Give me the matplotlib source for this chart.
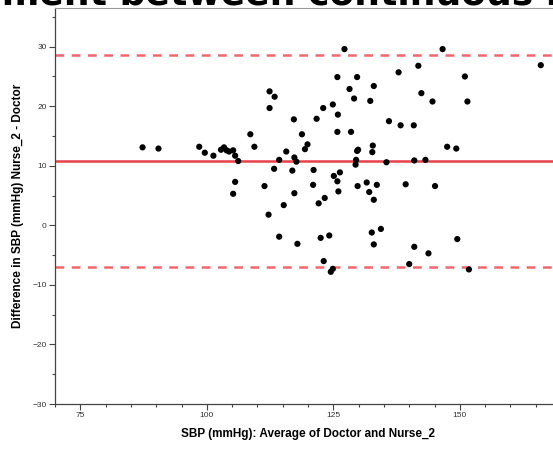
import numpy as np
import matplotlib
matplotlib.use("Agg")
import matplotlib.pyplot as plt
from matplotlib.ticker import MultipleLocator

# Bland-Altman data
avg_sbp = [87.3, 90.45, 98.5, 99.6, 101.3, 102.8, 103.4, 103.9, 104.4, 105.2,
           105.6, 106.2, 105.6, 105.2, 108.6, 109.4, 112.4, 113.4, 112.4, 113.3,
           114.3, 111.4, 112.2, 114.3,
           127.2, 125.8, 129.7, 128.2, 133.0, 129.1, 132.3, 137.9, 123.0, 124.9,
           125.9, 117.2, 121.7, 136.0, 138.3, 140.9, 118.8, 125.8, 128.5, 119.9,
           132.8,
           115.7, 117.3, 117.7, 119.4, 116.9, 121.1, 129.7, 129.9, 132.7, 129.5,
           129.4, 135.5, 141.0, 125.1, 126.3, 125.8, 121.0, 126.0, 129.8, 131.6,
           132.1, 133.6, 139.3, 133.0, 117.3, 123.3, 122.1, 115.2, 117.9, 122.5,
           124.2, 132.6, 134.4, 133.0, 141.0, 123.1, 124.5, 124.9, 140.0,
           143.8, 149.5, 151.8, 143.2, 145.1, 147.5, 149.3, 146.6, 141.8, 166.0,
           151.0, 142.4, 144.6, 151.5]
diff_sbp = [13.1, 12.9, 13.2, 12.2, 11.7, 12.7, 13.1, 12.6, 12.4, 12.6,
            11.7, 10.8, 7.3, 5.3, 15.3, 13.2, 22.5, 21.6, 19.7, 9.5,
            11.0, 6.6, 1.8, -1.9,
            29.6, 24.9, 24.9, 22.9, 23.4, 21.3, 20.9, 25.7, 19.7, 20.3,
            18.6, 17.8, 17.9, 17.5, 16.8, 16.8, 15.3, 15.7, 15.7, 13.6,
            13.4,
            12.4, 11.4, 10.7, 12.8, 9.2, 9.3, 12.5, 12.7, 12.3, 11.0,
            10.2, 10.6, 10.9, 8.3, 8.9, 7.4, 6.8, 5.7, 6.6, 7.2,
            5.6, 6.8, 6.9, 4.3, 5.4, 4.6, 3.7, 3.4, -3.1, -2.1,
            -1.7, -1.2, -0.6, -3.2, -3.6, -6.0, -7.8, -7.3, -6.5,
            -4.7, -2.3, -7.4, 11.0, 6.6, 13.2, 12.9, 29.6, 26.8, 26.9,
            25.0, 22.2, 20.8, 20.8]

mean_diff = 10.85
upper_loa = 28.55
lower_loa = -6.95

fig = plt.figure(figsize=(5.53, 4.5), dpi=100)
ax = fig.add_axes([0.0995, 0.1022, 0.915, 0.88])

ax.axhline(mean_diff, color="#e8414a", lw=1.8, zorder=1)
ax.axhline(upper_loa, color="#f0686e", lw=1.8, ls=(0, (3.5, 3)), zorder=1)
ax.axhline(lower_loa, color="#f0686e", lw=1.8, ls=(0, (3.5, 3)), zorder=1)
ax.scatter(avg_sbp, diff_sbp, s=20, color="black", edgecolors="none", zorder=3)

ax.set_xlim(70, 170)
ax.set_ylim(-30, 36.5)
ax.xaxis.set_major_locator(MultipleLocator(25))
ax.xaxis.set_minor_locator(MultipleLocator(5))
ax.yaxis.set_major_locator(MultipleLocator(10))
ax.yaxis.set_minor_locator(MultipleLocator(5))
ax.tick_params(which="major", length=4, width=0.8, color="#444444",
               labelsize=6, labelcolor="#333333", pad=2)
ax.tick_params(which="minor", length=2.5, width=0.8, color="#444444")

for side in ["left", "bottom"]:
    ax.spines[side].set_color("#444444")
    ax.spines[side].set_linewidth(0.9)
ax.spines["top"].set_color("#999999")
ax.spines["right"].set_color("#999999")

ax.set_xlabel("SBP (mmHg): Average of Doctor and Nurse_2", fontsize=8.5,
              fontweight="bold", family="Liberation Sans", labelpad=6)
ax.set_ylabel("Difference in SBP (mmHg) Nurse_2 - Doctor", fontsize=8.5,
              fontweight="bold", family="Liberation Sans", labelpad=6)
for lbl in ax.get_xticklabels() + ax.get_yticklabels():
    lbl.set_family("Liberation Sans")

# big title, mostly cut off at the top of the image (as in the reference)
fig.text(-0.215, 0.99, "Agreement between continuous measures", fontsize=26,
         fontweight="bold", ha="left", va="baseline")

fig.savefig("out.png", dpi=100)
